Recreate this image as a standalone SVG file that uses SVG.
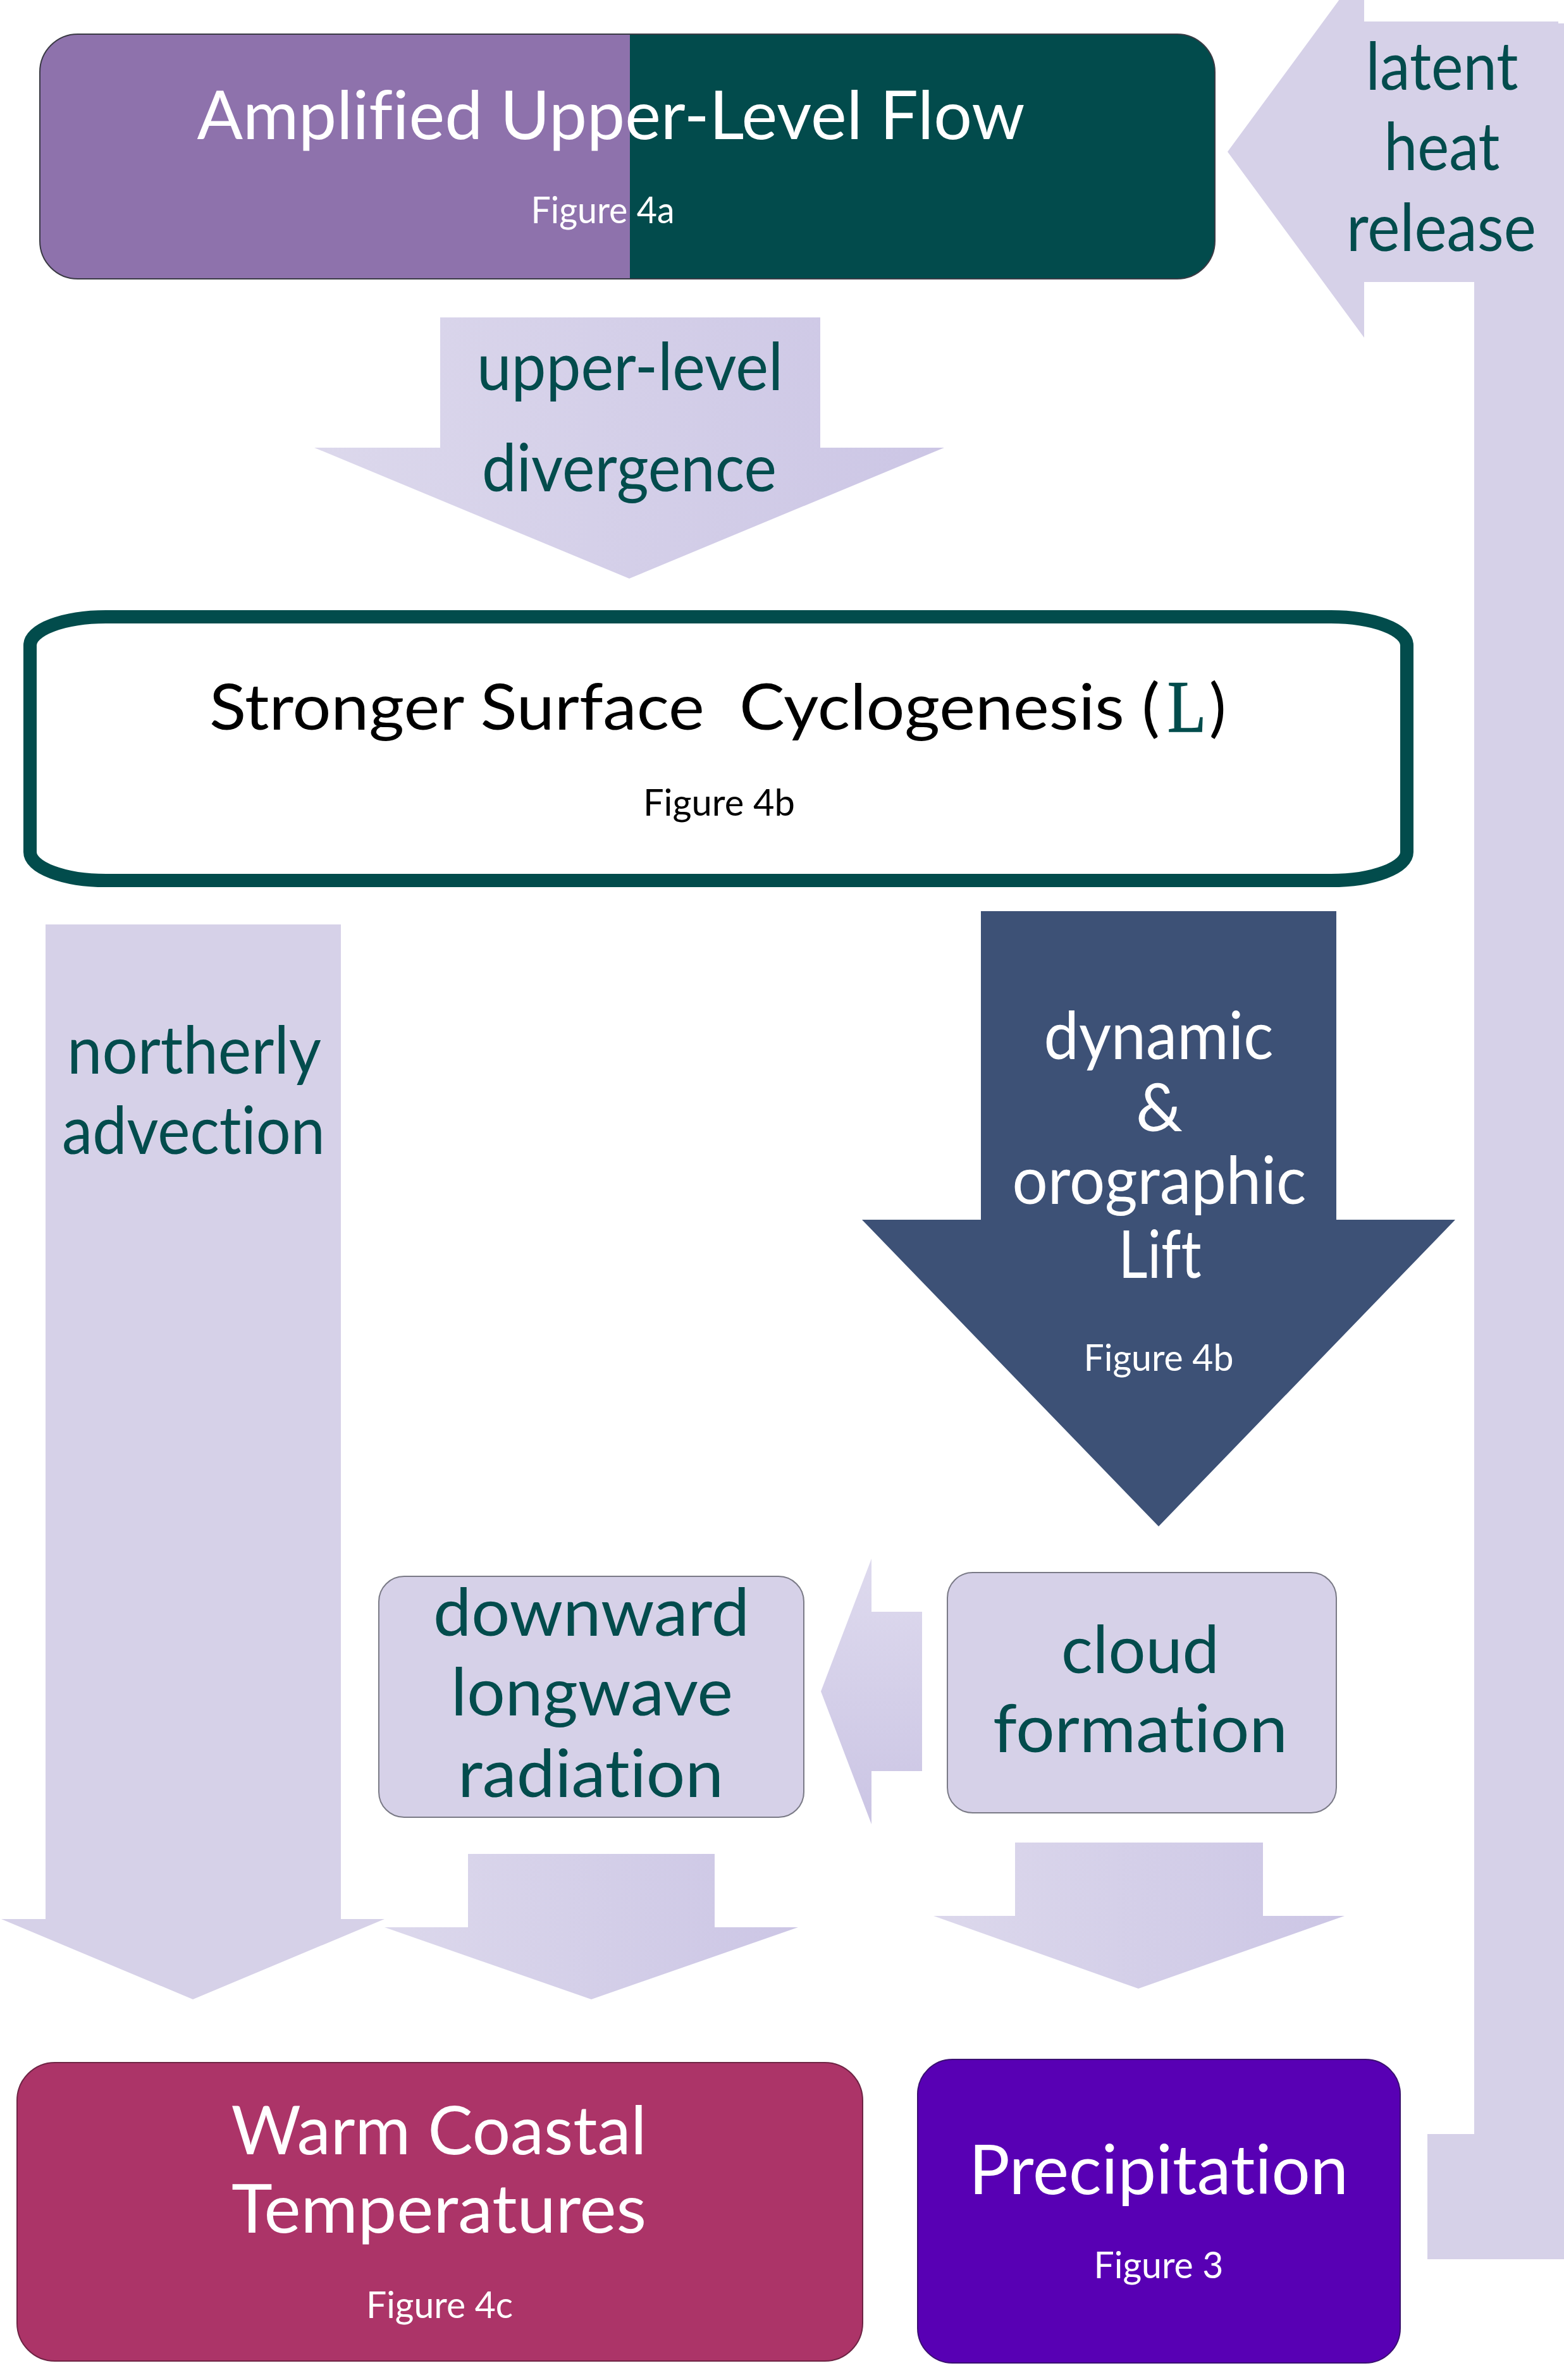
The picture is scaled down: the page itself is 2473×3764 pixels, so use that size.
<svg xmlns="http://www.w3.org/2000/svg" width="2473" height="3764" viewBox="0 0 2473 3764">
<style>
text{font-family:Lato,"Open Sans","Liberation Sans",sans-serif;text-anchor:middle;font-variant-ligatures:none}
.lab{fill:#034C4D;font-size:104px}
.wht{fill:#FFFFFF}
.fig{font-size:58px}
.lav{fill:#D6D1E8}
.tile{fill:#D6D1E8;stroke:#7A7A86;stroke-width:2}
</style>
<defs>
<linearGradient id="split" gradientUnits="userSpaceOnUse" x1="63" y1="0" x2="1921" y2="0">
<stop offset="0" stop-color="#8E72AC"/><stop offset="0.502" stop-color="#8E72AC"/>
<stop offset="0.502" stop-color="#024B4C"/><stop offset="1" stop-color="#024B4C"/>
</linearGradient>
<linearGradient id="hgrad" x1="0" y1="0" x2="1" y2="0">
<stop offset="0" stop-color="#DCD8EC"/><stop offset="1" stop-color="#CCC6E5"/>
</linearGradient>
<linearGradient id="vgrad" x1="0" y1="0" x2="0" y2="1">
<stop offset="0" stop-color="#DEDAEE"/><stop offset="1" stop-color="#CBC5E4"/>
</linearGradient>
</defs>

<g id="connectors">
<g id="latent-heat-release">
<polygon class="lav" points="2331,37 2473,37 2473,3573 2257,3573 2257,3375 2331,3375"/>
<polygon class="lav" points="1941,240 2157,-54 2157,34 2464,34 2464,446 2157,446 2157,534"/>
<text class="lab" x="2280" y="142" textLength="241" lengthAdjust="spacingAndGlyphs">latent</text>
<text class="lab" x="2280" y="269" textLength="183" lengthAdjust="spacingAndGlyphs">heat</text>
<text class="lab" x="2279" y="397" textLength="300" lengthAdjust="spacingAndGlyphs">release</text>
</g>
<g id="upper-level-divergence">
<polygon fill="url(#hgrad)" points="696,502 1297,502 1297,708 1493,708 995,915 497,708 696,708"/>
<text class="lab" x="996" y="617" textLength="484" lengthAdjust="spacingAndGlyphs">upper-level</text>
<text class="lab" x="995" y="777" textLength="466" lengthAdjust="spacingAndGlyphs">divergence</text>
</g>
<g id="northerly-advection">
<polygon class="lav" points="72,1462 539,1462 539,3035 608,3035 305,3162 2,3035 72,3035"/>
<text class="lab" x="307" y="1698" textLength="402" lengthAdjust="spacingAndGlyphs">northerly</text>
<text class="lab" x="306" y="1825" textLength="416" lengthAdjust="spacingAndGlyphs">advection</text>
</g>
<g id="dynamic-lift">
<polygon fill="#3D5176" points="1551,1441 2113,1441 2113,1929 2301,1929 1832,2414 1363,1929 1551,1929"/>
<text class="lab wht" x="1832" y="1675" textLength="363" lengthAdjust="spacingAndGlyphs">dynamic</text>
<text class="lab wht" x="1833" y="1789">&amp;</text>
<text class="lab wht" x="1833" y="1904" textLength="465" lengthAdjust="spacingAndGlyphs">orographic</text>
<text class="lab wht" x="1834" y="2021" textLength="131" lengthAdjust="spacingAndGlyphs">Lift</text>
<text class="wht fig" x="1832" y="2168" textLength="237" lengthAdjust="spacingAndGlyphs">Figure 4b</text>
</g>
<polygon id="cloud-to-longwave" fill="url(#vgrad)" points="1298,2675 1378,2465 1378,2549 1458,2549 1458,2801 1378,2801 1378,2885"/>
<polygon id="longwave-to-warm" fill="url(#hgrad)" points="740,2932 1130,2932 1130,3048 1262,3048 935,3162 608,3048 740,3048"/>
<polygon id="cloud-to-precip" fill="url(#hgrad)" points="1605,2914 1997,2914 1997,3030 2126,3030 1800,3145 1476,3030 1605,3030"/>
</g>

<g id="amplified-flow">
<rect x="63" y="54" width="1858" height="387" rx="60" ry="60" fill="url(#split)" stroke="#3A3A44" stroke-width="2"/>
<text class="wht" x="966" y="220" font-size="106" textLength="1309" lengthAdjust="spacingAndGlyphs">Amplified Upper-Level Flow</text>
<text class="wht fig" x="953" y="353" textLength="227" lengthAdjust="spacingAndGlyphs">Figure 4a</text>
</g>

<g id="cyclogenesis">
<rect x="47.5" y="975.5" width="2177" height="417" rx="120" ry="45" fill="#FFFFFF" stroke="#024C4C" stroke-width="21"/>
<text x="331" y="1154" font-size="100" fill="#000" style="text-anchor:start" xml:space="preserve" textLength="1503" lengthAdjust="spacingAndGlyphs">Stronger Surface  Cyclogenesis (</text>
<text x="1846" y="1157" font-size="116" fill="#024C4C" stroke="#024C4C" stroke-width="1.5" style="text-anchor:start;font-family:'Liberation Serif','DejaVu Serif',serif" textLength="61" lengthAdjust="spacingAndGlyphs">L</text>
<text x="1912" y="1154" font-size="100" fill="#000" style="text-anchor:start">)</text>
<text class="fig" x="1137" y="1290" fill="#000" textLength="240" lengthAdjust="spacingAndGlyphs">Figure 4b</text>
</g>

<g id="longwave-radiation">
<rect class="tile" x="599" y="2493" width="672" height="381" rx="40" ry="40"/>
<text class="lab" x="935" y="2587" font-size="108" textLength="500" lengthAdjust="spacingAndGlyphs">downward</text>
<text class="lab" x="936" y="2713" font-size="108" textLength="446" lengthAdjust="spacingAndGlyphs">longwave</text>
<text class="lab" x="934" y="2842" font-size="108" textLength="420" lengthAdjust="spacingAndGlyphs">radiation</text>
</g>

<g id="cloud-formation">
<rect class="tile" x="1498" y="2487" width="615" height="380" rx="40" ry="40"/>
<text class="lab" x="1803" y="2646" font-size="108" textLength="250" lengthAdjust="spacingAndGlyphs">cloud</text>
<text class="lab" x="1803" y="2771" font-size="108" textLength="466" lengthAdjust="spacingAndGlyphs">formation</text>
</g>

<g id="warm-temperatures">
<rect x="27" y="3262" width="1337" height="472" rx="60" ry="60" fill="#AC3468" stroke="#6E2444" stroke-width="2"/>
<text class="wht" x="694" y="3407" font-size="106" textLength="657" lengthAdjust="spacingAndGlyphs">Warm Coastal</text>
<text class="wht" x="694" y="3531" font-size="106" textLength="656" lengthAdjust="spacingAndGlyphs">Temperatures</text>
<text class="wht fig" x="695" y="3666" textLength="232" lengthAdjust="spacingAndGlyphs">Figure 4c</text>
</g>

<g id="precipitation">
<rect x="1451" y="3257" width="763" height="480" rx="55" ry="55" fill="#5800B4" stroke="#3A1070" stroke-width="2"/>
<text class="wht" x="1832" y="3470" font-size="108" textLength="600" lengthAdjust="spacingAndGlyphs">Precipitation</text>
<text class="wht fig" x="1832" y="3603" textLength="205" lengthAdjust="spacingAndGlyphs">Figure 3</text>
</g>
</svg>
